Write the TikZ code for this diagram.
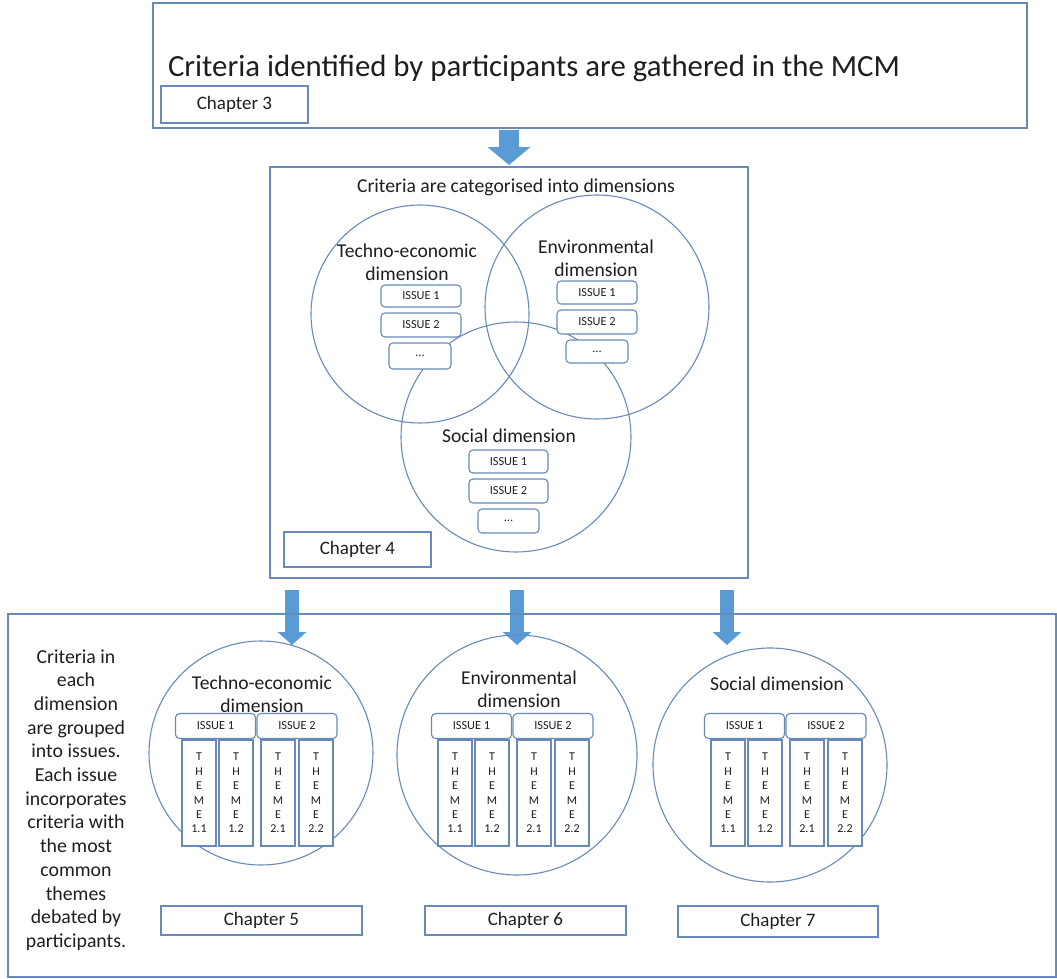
\documentclass[tikz,border=0pt]{standalone}
\usepackage{fontspec}
\setmainfont{Carlito}
\usepackage{tikz}
\usetikzlibrary{arrows.meta}
\definecolor{lineblue}{RGB}{104,138,182}
\definecolor{arrowblue}{RGB}{91,155,213}
\definecolor{textgrey}{RGB}{30,30,30}

\begin{document}
\begin{tikzpicture}[x=1pt,y=-1pt,line width=1.1pt,text=textgrey]
    \tikzstyle{frame}=[draw=lineblue,rectangle,inner sep=0pt]
    \tikzstyle{chapter}=[draw=lineblue,rectangle,fill=white,inner sep=0pt,font=\fontsize{19}{22}\selectfont]
    \tikzstyle{ring}=[draw=lineblue,circle,inner sep=0pt]
    \tikzstyle{label}=[align=center,inner sep=0pt,font=\fontsize{19.6}{23}\selectfont]
    \tikzstyle{issue}=[draw=lineblue,rectangle,rounded corners=4pt,fill=white,inner sep=0pt,font=\fontsize{12.3}{14}\selectfont]
    \tikzstyle{theme}=[draw=lineblue,rectangle,fill=white,inner sep=0pt,minimum width=34pt,minimum height=106pt,align=center,font=\fontsize{12}{14.4}\selectfont]
    \tikzstyle{bigarrow}=[arrowblue,line width=20pt,-{Triangle[length=18pt 0 0,width=42pt 0 0]}]
    \tikzstyle{smallarrow}=[arrowblue,line width=14pt,-{Triangle[length=13pt 0 0,width=28pt 0 0]}]

    \useasboundingbox (0,0) rectangle (1057,979);

    % top box
    \node[frame,minimum width=874pt,minimum height=125pt] (top) at (590,65.5){};
    \node[inner sep=0pt,font=\fontsize{30.8}{34}\selectfont] (title) at (534,68){Criteria identified by participants are gathered in the MCM};
    \node[chapter,minimum width=147pt,minimum height=37pt] (ch-3) at (234.5,104.5){Chapter 3};

    % arrow to middle box
    \coordinate (a0-s) at (509,130);
    \coordinate (a0-e) at (509,165);
    \draw[bigarrow] (a0-s) -- (a0-e);

    % middle box with venn diagram
    \node[frame,minimum width=478pt,minimum height=411pt] (mid) at (509,372.5){};
    \node[inner sep=0pt,font=\fontsize{19.7}{22}\selectfont] (mid-title) at (516,187){Criteria are categorised into dimensions};

    \node[ring,minimum size=218pt] (V-te) at (420,314){};
    \node[ring,minimum size=224pt] (V-env) at (597,307){};
    \node[ring,minimum size=230pt] (V-soc) at (516,437){};

    \node[label] (V-te-lbl) at (407,262){Techno-economic\\dimension};
    \node[label] (V-env-lbl) at (596,258){Environmental\\dimension};
    \node[label] (V-soc-lbl) at (509,436){Social dimension};

    \node[issue,minimum width=80pt,minimum height=22pt] (V-te-1) at (421,296){ISSUE 1};
    \node[issue,minimum width=80pt,minimum height=24pt] (V-te-2) at (421,325){ISSUE 2};
    \node[issue,minimum width=62pt,minimum height=26pt] (V-te-3) at (420,356){...};

    \node[issue,minimum width=80pt,minimum height=23pt] (V-env-1) at (597,292.5){ISSUE 1};
    \node[issue,minimum width=80pt,minimum height=24pt] (V-env-2) at (597,322){ISSUE 2};
    \node[issue,minimum width=62pt,minimum height=23pt] (V-env-3) at (597,351.5){...};

    \node[issue,minimum width=79pt,minimum height=23pt] (V-soc-1) at (508.5,461.5){ISSUE 1};
    \node[issue,minimum width=79pt,minimum height=24pt] (V-soc-2) at (508.5,491){ISSUE 2};
    \node[issue,minimum width=61pt,minimum height=24pt] (V-soc-3) at (508.5,521){...};

    \node[chapter,minimum width=147pt,minimum height=35pt] (ch-4) at (357.5,549.5){Chapter 4};

    % arrows to the dimensions
    \foreach \i/\x in {1/292, 2/517, 3/727}{
        \coordinate (a\i-s) at (\x,590);
        \coordinate (a\i-e) at (\x,645);
        \draw[smallarrow] (a\i-s) -- (a\i-e);
    }

    % bottom box
    \node[frame,minimum width=1048pt,minimum height=363pt] (bot) at (532,795.5){};
    \node[inner sep=0pt,align=center,font=\fontsize{19.8}{23.7}\selectfont] (bot-text) at (76,800){Criteria in\\each\\dimension\\are grouped\\into issues.\\Each issue\\incorporates\\criteria with\\the most\\common\\themes\\debated by\\participants.};

    \node[ring,minimum size=224pt] (D-te) at (261,753){};
    \node[ring,minimum size=240pt] (D-env) at (517,755){};
    \node[ring,minimum size=234pt] (D-soc) at (770,765){};

    \node[label] (D-te-lbl) at (262,694.5){Techno-economic\\dimension};
    \node[label] (D-env-lbl) at (519,689){Environmental\\dimension};
    \node[label] (D-soc-lbl) at (777,684){Social dimension};

    % issues and themes for each dimension
    \foreach \d/\dx in {te/0, env/256, soc/529}{
        \node[issue,minimum width=80pt,minimum height=25pt] (D-\d-1) at (215.5+\dx,726){ISSUE 1};
        \node[issue,minimum width=80pt,minimum height=25pt] (D-\d-2) at (297+\dx,726){ISSUE 2};
        \foreach \t/\tx in {1.1/199, 1.2/236, 2.1/278, 2.2/316}
            \node[theme] (D-\d-\t) at (\tx+\dx,793){T\\H\\E\\M\\E\\\t};
    }

    \node[chapter,minimum width=201pt,minimum height=29pt] (ch-5) at (261.5,920.5){Chapter 5};
    \node[chapter,minimum width=201pt,minimum height=29pt] (ch-6) at (525.5,920.5){Chapter 6};
    \node[chapter,minimum width=200pt,minimum height=31pt] (ch-7) at (778,921.5){Chapter 7};
\end{tikzpicture}
\end{document}
